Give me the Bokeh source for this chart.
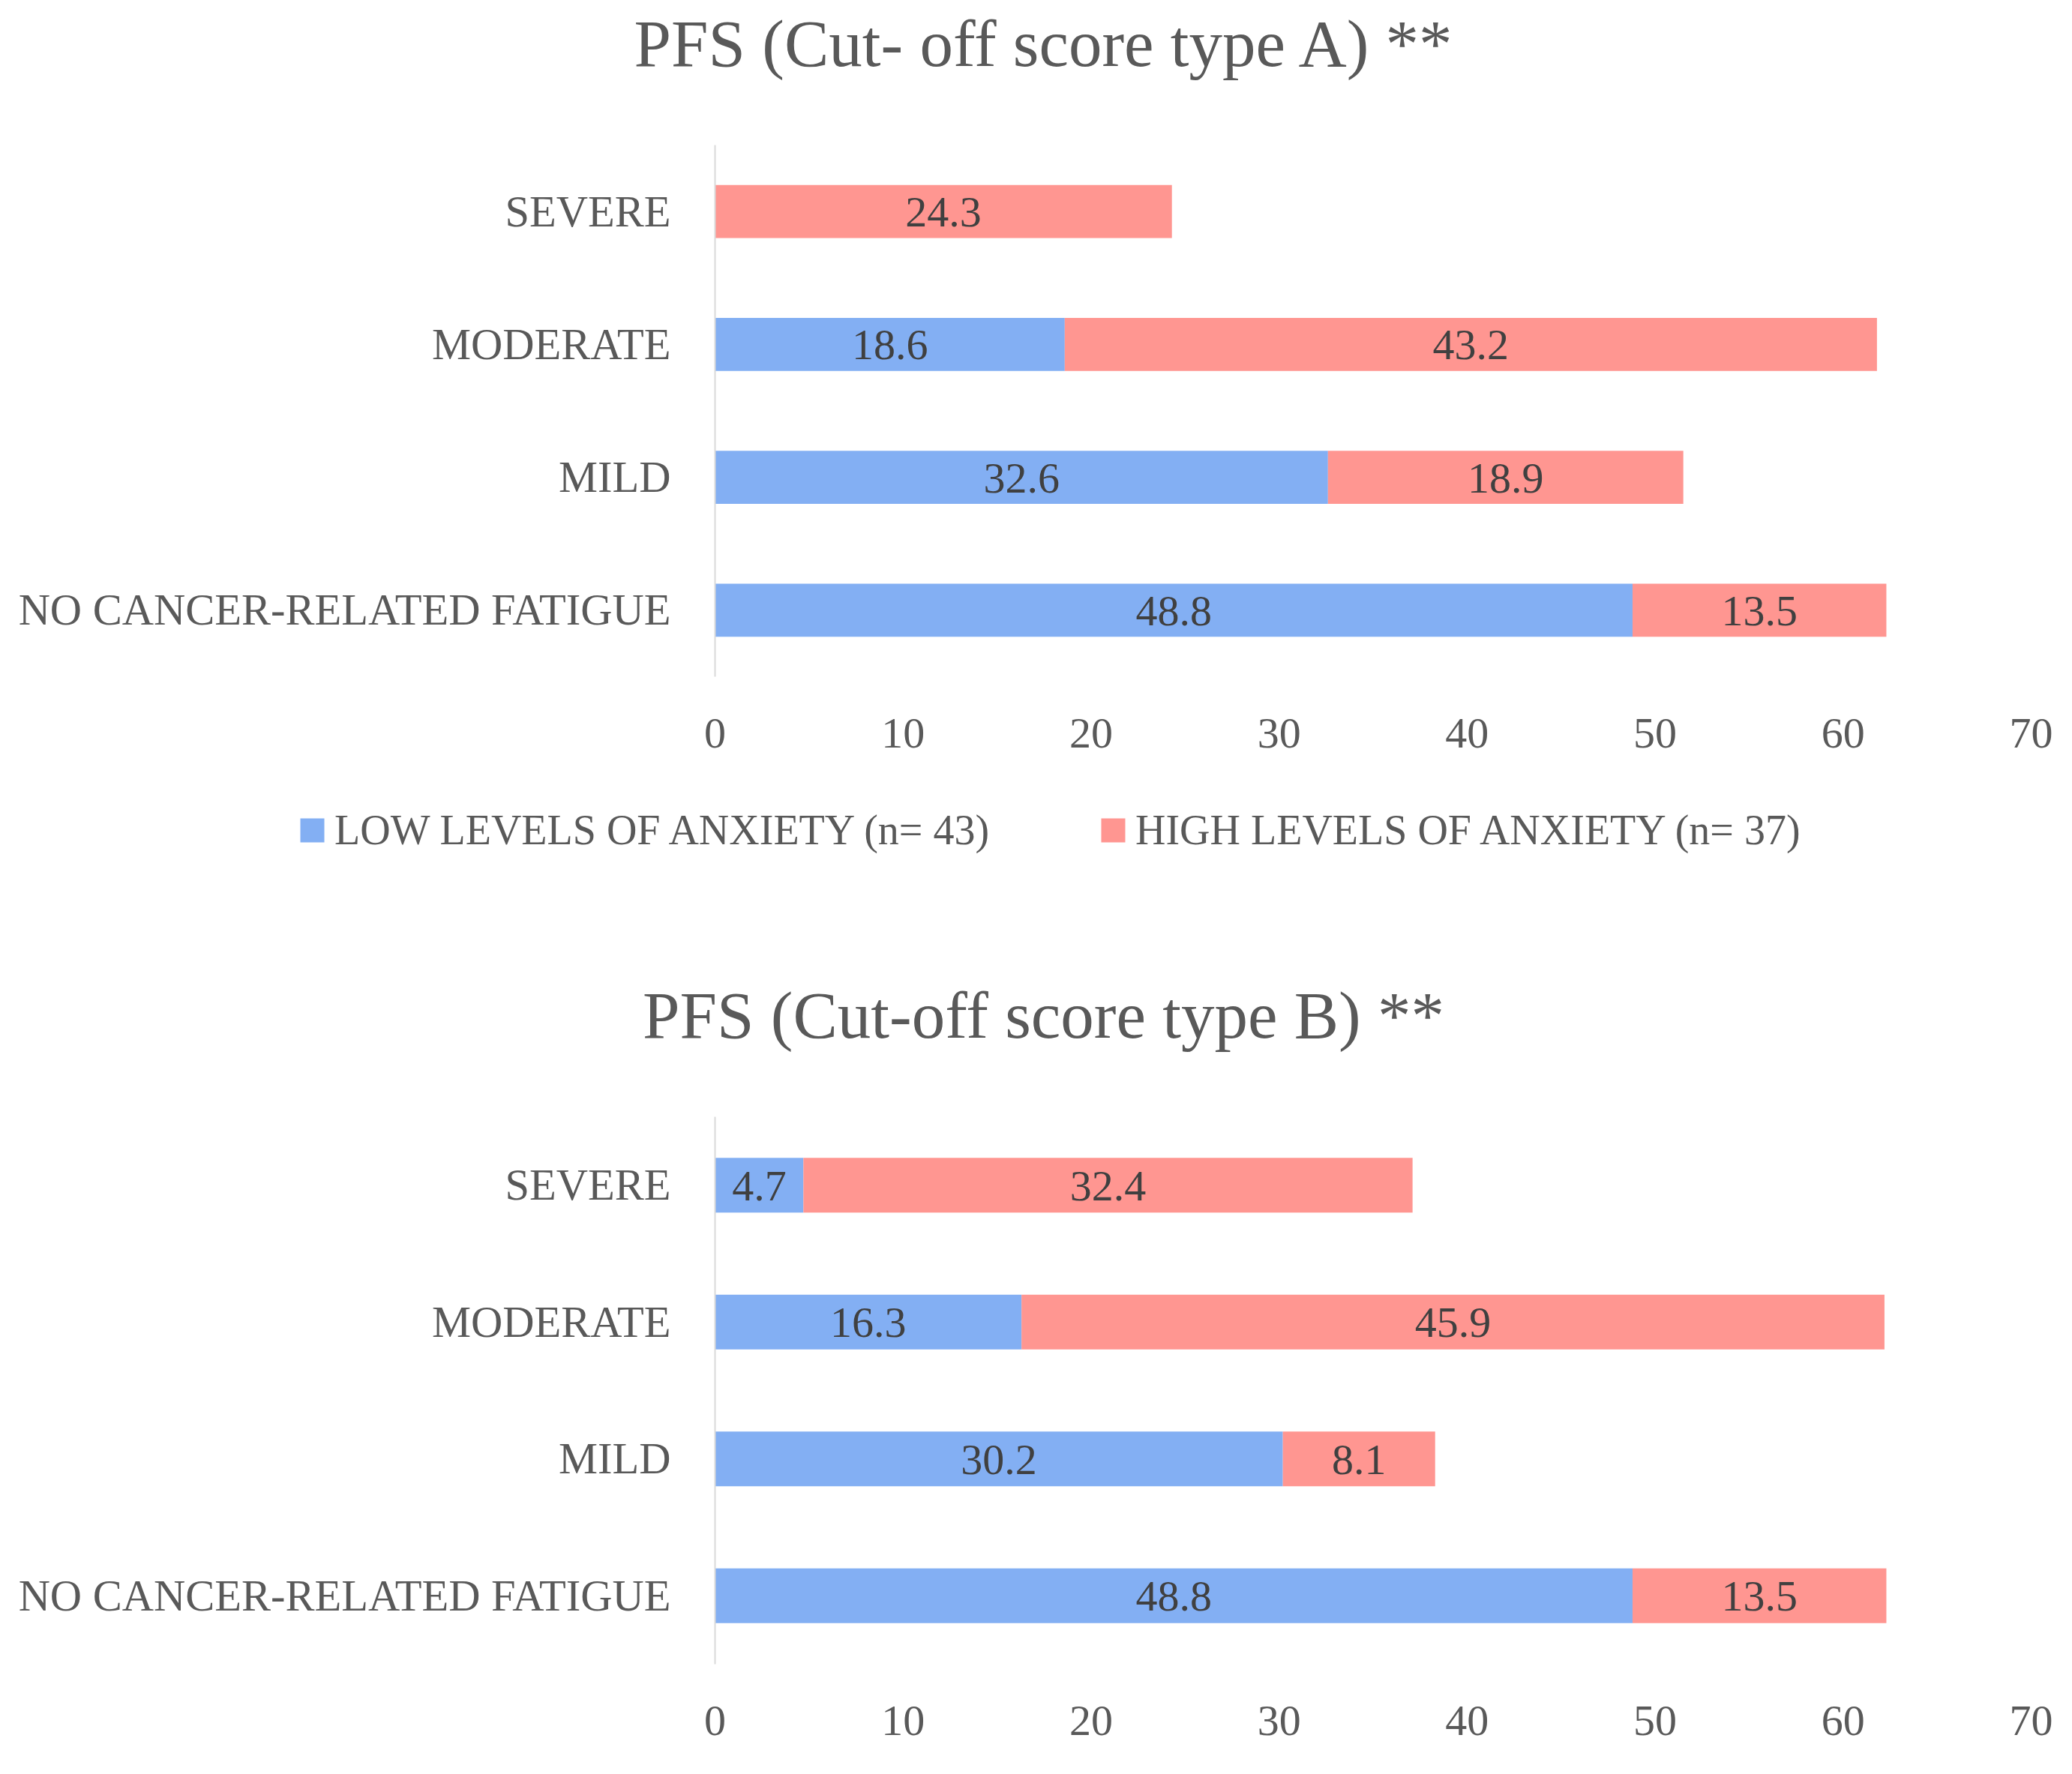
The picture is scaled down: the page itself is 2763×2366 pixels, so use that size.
from bokeh.plotting import figure
from bokeh.models import (ColumnDataSource, FactorRange, Range1d, FixedTicker,
                          Legend, LegendItem, Label)
from bokeh.embed import file_html
from bokeh.resources import INLINE
from bokeh.core.properties import value

# ---------------- data ----------------
categories = ["NO CANCER-RELATED FATIGUE", "MILD", "MODERATE", "SEVERE"]
low_a = [48.8, 32.6, 18.6, 0.0]
high_a = [13.5, 18.9, 43.2, 24.3]
low_b = [48.8, 30.2, 16.3, 4.7]
high_b = [13.5, 8.1, 45.9, 32.4]
x_ticks = [0, 10, 20, 30, 40, 50, 60, 70]
series_names = ["LOW LEVELS OF ANXIETY (n= 43)", "HIGH LEVELS OF ANXIETY (n= 37)"]
titles = ["PFS (Cut- off score type A) **", "PFS (Cut-off score type B) **"]

# ---------------- style ----------------
BLUE = "#83AFF3"
RED = "#FF9691"
TXT = "#595959"
LBL = "#404040"
FONT = "Liberation Serif"
FS = "58px"
W = 2747


def blank(h):
    """A figure without axes whose frame fills the whole canvas (for titles/legend)."""
    p = figure(width=W, height=h, x_range=Range1d(0, W), y_range=Range1d(h, 0),
               output_backend="svg", toolbar_location=None, min_border=0,
               min_border_left=0, min_border_right=0, min_border_top=0,
               min_border_bottom=0,
               x_axis_location=None, y_axis_location=None, title=None)
    p.xgrid.visible = False
    p.ygrid.visible = False
    p.outline_line_color = None
    p.background_fill_color = "white"
    p.border_fill_color = "white"
    return p


def add_title(p, text, x, y):
    p.add_layout(Label(x=x, y=y, text=text, text_align="center",
                       text_baseline="alphabetic", text_font=FONT,
                       text_font_size="89px", text_color=TXT))


def make_chart(low, high, height, border_bottom):
    end = [l + h for l, h in zip(low, high)]
    src = ColumnDataSource(dict(
        cat=categories, low=low, high=high, end=end,
        low_mid=[l / 2 for l in low],
        high_mid=[l + h / 2 for l, h in zip(low, high)],
        low_txt=[f"{v:.1f}" if v > 0 else "" for v in low],
        high_txt=[f"{v:.1f}" if v > 0 else "" for v in high],
    ))
    p = figure(width=W, height=height,
               y_range=FactorRange(factors=categories),
               x_range=Range1d(x_ticks[0], x_ticks[-1]),
               output_backend="svg", toolbar_location=None, title=None,
               min_border_left=953, min_border_right=39,
               min_border_top=0, min_border_bottom=border_bottom)
    p.hbar(y="cat", left=0, right="low", height=0.4, source=src,
           fill_color=BLUE, line_color=None)
    p.hbar(y="cat", left="low", right="end", height=0.4, source=src,
           fill_color=RED, line_color=None)
    for xcol, tcol in (("low_mid", "low_txt"), ("high_mid", "high_txt")):
        p.text(x=xcol, y="cat", text=tcol, source=src, text_align="center",
               text_baseline="middle", text_font=value(FONT),
               text_font_size=FS, text_color=LBL, y_offset=1)

    p.xgrid.visible = False
    p.ygrid.visible = False
    p.outline_line_color = None
    p.background_fill_color = "white"
    p.border_fill_color = "white"

    xa = p.xaxis[0]
    xa.ticker = FixedTicker(ticks=x_ticks)
    xa.axis_line_color = None
    xa.major_tick_line_color = None
    xa.minor_tick_line_color = None
    xa.major_tick_out = 0
    xa.major_tick_in = 0
    xa.major_label_standoff = 56
    xa.major_label_text_font = FONT
    xa.major_label_text_font_size = FS
    xa.major_label_text_color = TXT

    ya = p.yaxis[0]
    ya.axis_line_color = "#D9D9D9"
    ya.axis_line_width = 2
    ya.major_tick_line_color = None
    ya.minor_tick_line_color = None
    ya.major_tick_out = 0
    ya.major_tick_in = 0
    ya.major_label_standoff = 59
    ya.major_label_text_font = FONT
    ya.major_label_text_font_size = "58.5px"
    ya.major_label_text_color = TXT
    return p


# header with title A
head = blank(193)
add_title(head, titles[0], 1393, 57)

# chart A
pa = make_chart(low_a, high_a, 847, 138)

# legend + title B
mid = blank(449)
# zero-area legend handles (one row each so the legend draws their swatch)
leg_low = mid.hbar(y=[0], left=[0], right=[0], height=0,
                   fill_color=BLUE, line_color=None)
leg_high = mid.hbar(y=[0], left=[0], right=[0], height=0,
                    fill_color=RED, line_color=None)
legend = Legend(items=[LegendItem(label=series_names[0], renderers=[leg_low]),
                       LegendItem(label=series_names[1], renderers=[leg_high])],
                orientation="horizontal", location=(396, 350),
                glyph_width=40, glyph_height=40, label_standoff=10,
                spacing=145, padding=0, margin=0,
                border_line_color=None, background_fill_alpha=0,
                label_text_font=FONT, label_text_font_size="56px",
                label_text_color=TXT, label_text_baseline="alphabetic")
mid.add_layout(legend, "center")
add_title(mid, titles[1], 1391, 313)

# chart B
pb = make_chart(low_b, high_b, 869, 139)

open("out.html", "w").write(file_html([head, pa, mid, pb], INLINE))
